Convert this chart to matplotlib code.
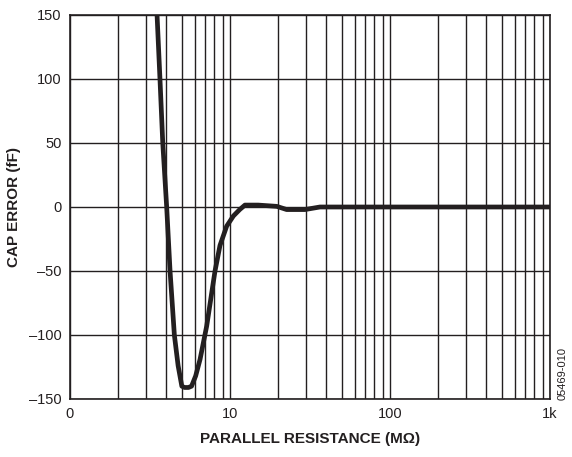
import numpy as np
import matplotlib
matplotlib.use('Agg')
import matplotlib.pyplot as plt

plt.rcParams['font.family'] = ['Liberation Sans', 'DejaVu Sans']

# cap error vs parallel resistance
r_mohm = [3.5, 3.65, 3.8, 4.02, 4.22, 4.49, 4.74, 5.0, 5.2, 5.5, 5.75,
          6.1, 6.5, 7.15, 8.06, 8.66, 9.53, 10.5, 11.5, 12.4, 15.0,
          19.6, 22.6, 29.4, 36.5, 100.0, 1000.0]
cap_err = [150, 100, 50, 0, -50, -100, -124, -140, -141, -141, -140,
           -132, -119, -93, -50, -30, -15, -7, -2, 1.5, 1.5,
           0.5, -2, -2, 0, 0, 0]

xticks = [1, 10, 100, 1000]
xtick_labels = ['0', '10', '100', '1k']
yticks = [-150, -100, -50, 0, 50, 100, 150]
ytick_labels = ['\u2013150', '\u2013100', '\u201350', '0', '50', '100', '150']

fig = plt.figure(figsize=(5.72, 4.57), dpi=100)
ax = fig.add_axes([70/572, 1 - 399/457, 480/572, 384/457])

ax.plot(r_mohm, cap_err, color='#231f20', lw=3.4, solid_joinstyle='round', zorder=3)

ax.set_xscale('log')
ax.set_xlim(1, 1000)
ax.set_ylim(-150, 150)

ax.set_xticks(xticks)
ax.set_xticklabels(xtick_labels)
ax.set_yticks(yticks)
ax.set_yticklabels(ytick_labels)
ax.xaxis.set_minor_locator(matplotlib.ticker.LogLocator(base=10, subs=np.arange(2, 10)))
ax.xaxis.set_minor_formatter(matplotlib.ticker.NullFormatter())

ax.grid(True, which='both', color='#231f20', lw=1.0)
ax.tick_params(which='both', length=0, labelsize=10.5, colors='#231f20', pad=6)
for s in ax.spines.values():
    s.set_color('#231f20')
    s.set_linewidth(1.2)

ax.set_xlabel('PARALLEL RESISTANCE (M\u03a9)', fontsize=11, fontweight='bold',
              color='#231f20', labelpad=8)
ax.set_ylabel('CAP ERROR (fF)', fontsize=11, fontweight='bold',
              color='#231f20', labelpad=6)

fig.text(563/572, 1 - 374/457, '05469-010', rotation=90, fontsize=8,
         color='#231f20', ha='center', va='center')

fig.savefig('out.png', dpi=100)
